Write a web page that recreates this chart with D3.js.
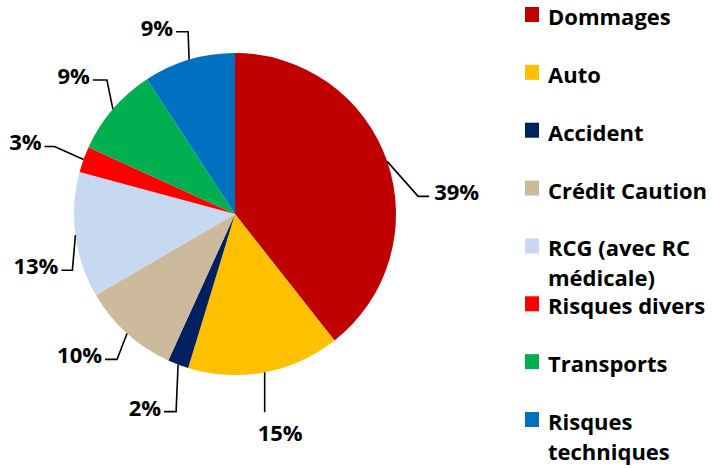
<!DOCTYPE html>
<html>
<head>
<meta charset="utf-8">
<script src="https://cdn.jsdelivr.net/npm/d3@7"></script>
<style>
  body { margin: 0; background: #fff; }
  svg text { font-family: "Open Sans", sans-serif; font-weight: bold; fill: #000; }
</style>
</head>
<body>
<svg id="chart" width="713" height="469"></svg>
<script>
// data (share of premiums, %)
const categories = ['Dommages', 'Auto', 'Accident', 'Crédit Caution',
  'RCG (avec RC médicale)', 'Risques divers', 'Transports', 'Risques techniques'];
const values = [39.4, 15.3, 2.1, 9.8, 12.6, 2.6, 9.0, 9.2];
const colors = ['#C00000', '#FFC000', '#002060', '#CDB99B',
  '#C6D9F1', '#FF0000', '#00B050', '#0070C0'];

// leader layout: elbow offset from the slice edge, then horizontal run
const leaders = [
  { dx: 31, dy: 35, h: 11 },
  { dx: 0, dy: 40, h: 0, below: true },
  { dx: -2, dy: 47, h: -12 },
  { dx: -10, dy: 26, h: -12 },
  { dx: -3, dy: 35, h: -11 },
  { dx: -29, dy: -13, h: -10 },
  { dx: -6, dy: -29, h: -14 },
  { dx: -1, dy: -28, h: -12 }
];

const svg = d3.select('#chart');
const cx = 235, cy = 214, r = 161;

const total = d3.sum(values);
const fmt = d3.format('.0%');
const rows = categories.map((c, i) => ({ name: c, value: values[i], i: i }));

const pie = d3.pie().value(d => d.value).sort(null);
const arc = d3.arc().innerRadius(0).outerRadius(r);
const arcs = pie(rows);

const g = svg.append('g').attr('transform', `translate(${cx},${cy})`);

g.selectAll('path.slice')
  .data(arcs)
  .join('path')
  .attr('class', 'slice')
  .attr('d', arc)
  .attr('fill', d => colors[d.data.i]);

// labels with leader lines
arcs.forEach(d => {
  const a = (d.startAngle + d.endAngle) / 2;
  const ax = r * Math.sin(a), ay = -r * Math.cos(a);
  const L = leaders[d.data.i];
  const ex = ax + L.dx, ey = ay + L.dy;
  const hx = ex + L.h;

  g.append('path')
    .attr('d', `M${ax},${ay}L${ex},${ey}L${hx},${ey}`)
    .attr('fill', 'none')
    .attr('stroke', '#000')
    .attr('stroke-width', 1.6);

  const t = g.append('text')
    .style('font-size', '22px')
    .text(fmt(d.value / total));
  if (L.below) {
    t.attr('x', hx - 7).attr('y', ey + 29).attr('text-anchor', 'start');
  } else if (L.h > 0) {
    t.attr('x', hx + 5).attr('y', ey + 4).attr('text-anchor', 'start');
  } else {
    t.attr('x', hx - 3).attr('y', ey + 4).attr('text-anchor', 'end');
  }
});

// legend
const lx = 525, tx = 548;
const ly = d3.scalePoint().domain(categories).range([7, 412]);
const maxW = 713 - tx;

const leg = svg.append('g');
rows.forEach(d => {
  const y = ly(d.name);
  leg.append('rect')
    .attr('x', lx).attr('y', y)
    .attr('width', 14).attr('height', 15)
    .attr('fill', colors[d.i]);

  const t = leg.append('text')
    .attr('x', tx).attr('y', y + 18)
    .style('font-size', '22px');

  // simple word wrap to the space on the right
  const words = d.name.split(' ');
  let line = [], lineNo = 0;
  let ts = t.append('tspan').attr('x', tx);
  words.forEach(w => {
    line.push(w);
    ts.text(line.join(' '));
    if (ts.node().getComputedTextLength() > maxW && line.length > 1) {
      line.pop();
      ts.text(line.join(' '));
      line = [w];
      lineNo++;
      ts = t.append('tspan').attr('x', tx).attr('dy', 30).text(w);
    }
  });
});
</script>
</body>
</html>
